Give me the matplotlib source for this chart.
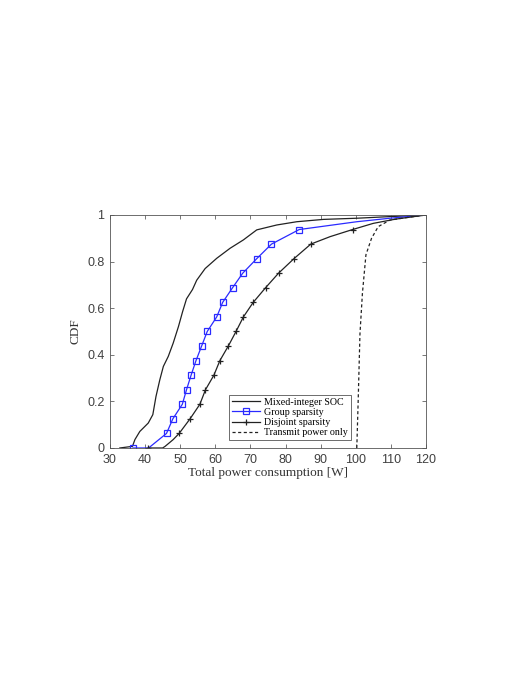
import matplotlib.pyplot as plt

# CDF curves
soc_x = [32.8, 36.4, 37.1, 38.5, 40.9, 42.2, 43.1, 44.2, 45.2, 46.6, 48.0, 49.5, 50.7,
         51.8, 53.5, 54.7, 57.1, 60.4, 64.2, 68.0, 71.8, 77.5, 83.2, 90.8, 100.3, 109.7, 120.0]
soc_y = [0.0, 0.007, 0.036, 0.071, 0.107, 0.143, 0.221, 0.293, 0.35, 0.393, 0.45, 0.521, 0.586,
         0.64, 0.68, 0.72, 0.77, 0.814, 0.857, 0.893, 0.936, 0.957, 0.971, 0.981, 0.986, 0.993, 1.0]

group_x = [36.5, 41.0, 46.1, 47.9, 50.6, 51.8, 53.1, 54.5, 56.1, 57.7, 60.4, 62.1, 64.9,
           67.8, 71.8, 76.0, 83.9, 100.3, 109.7, 120.0]
group_y = [0.0, 0.0, 0.0625, 0.125, 0.1875, 0.25, 0.3125, 0.375, 0.4375, 0.5, 0.5625, 0.625,
           0.6875, 0.75, 0.8125, 0.875, 0.9375, 0.971, 0.986, 1.0]
group_marks = [0, 2, 3, 4, 5, 6, 7, 8, 9, 10, 11, 12, 13, 14, 15, 16]

disj_x = [40.9, 45.0, 45.7, 48.0, 49.7, 52.8, 55.6, 57.2, 59.6, 61.3, 63.7, 65.9, 68.0,
          70.8, 74.3, 78.0, 82.4, 87.2, 92.7, 99.1, 105.0, 111.3, 120.0]
disj_y = [0.0, 0.0, 0.007, 0.036, 0.0625, 0.125, 0.1875, 0.25, 0.3125, 0.375, 0.4375, 0.5,
          0.5625, 0.625, 0.6875, 0.75, 0.8125, 0.875, 0.907, 0.9375, 0.964, 0.982, 1.0]
disj_marks = [0, 4, 5, 6, 7, 8, 9, 10, 11, 12, 13, 14, 15, 16, 17, 19]

tx_x = [100.3, 100.7, 101.2, 101.9, 102.9, 104.5, 106.4, 109.7, 115.0, 120.0]
tx_y = [0.0, 0.207, 0.49, 0.664, 0.829, 0.9, 0.95, 0.978, 0.99, 1.0]

labels = ['Mixed-integer SOC', 'Group sparsity', 'Disjoint sparsity', 'Transmit power only']

plt.rcParams['font.family'] = ['Liberation Serif', 'DejaVu Serif']

fig = plt.figure(figsize=(5.21, 6.76), dpi=100)
ax = fig.add_axes([0.2111, 0.3373, 0.6065, 0.3447])

ax.plot(soc_x, soc_y, color='#222222', linewidth=0.9, label=labels[0])
ax.plot(group_x, group_y, color='#2a2aff', linewidth=0.9, marker='s', markersize=3.8,
        markerfacecolor='none', markeredgewidth=0.9, markevery=group_marks, label=labels[1])
ax.plot(disj_x, disj_y, color='#222222', linewidth=0.9, marker='+', markersize=4.5,
        markeredgewidth=0.9, markevery=disj_marks, label=labels[2])
ax.plot(tx_x, tx_y, color='#222222', linewidth=0.9, linestyle=(0, (2.5, 2)), label=labels[3])

ax.set_xlim(30, 120)
ax.set_ylim(0, 1)
ax.set_xticks(range(30, 121, 10))
ax.set_yticks([0, 0.2, 0.4, 0.6, 0.8, 1])
ax.set_yticklabels(['0', '0.2', '0.4', '0.6', '0.8', '1'])
ax.tick_params(direction='in', top=True, right=True, length=3, width=0.5,
               labelsize=9, colors='#404040', pad=4)
for lab in ax.get_xticklabels() + ax.get_yticklabels():
    lab.set_family('Liberation Sans')
for s in ax.spines.values():
    s.set_linewidth(0.6)
    s.set_color('#555555')

ax.set_xlabel('Total power consumption [W]', fontsize=9.5, labelpad=1, color='#333333')
ax.set_ylabel('CDF', fontsize=9.5, labelpad=4, color='#333333')

leg = ax.legend(loc='lower left', bbox_to_anchor=(0.378, 0.033), fontsize=7.2,
                frameon=True, fancybox=False, edgecolor='#555555', framealpha=1,
                borderpad=0.3, labelspacing=0.12, handlelength=2.8, handletextpad=0.4,
                borderaxespad=0)
leg.get_frame().set_linewidth(0.6)

fig.savefig('out.png', dpi=100)
